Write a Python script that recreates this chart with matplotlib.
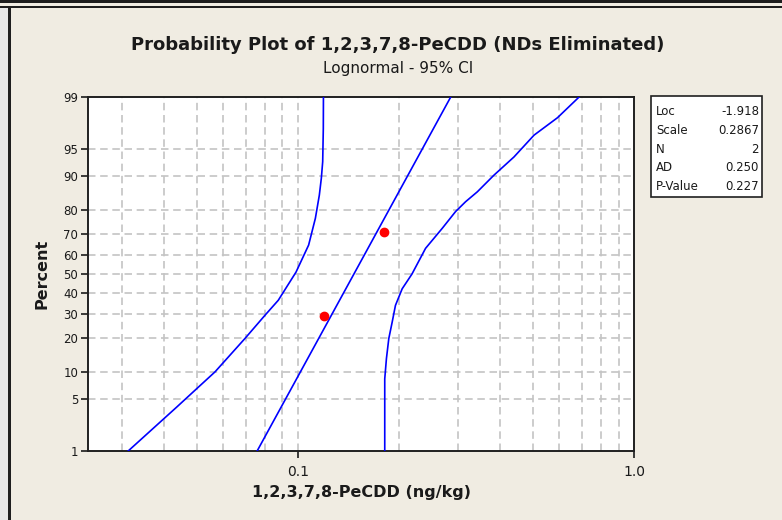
import numpy as np
import matplotlib
matplotlib.use('Agg')
import matplotlib.pyplot as plt
from matplotlib.patches import Rectangle
from matplotlib.ticker import NullLocator, FixedLocator, NullFormatter
from statistics import NormalDist

# values
data_x = [0.12, 0.18]
data_pct = [29.17, 70.83]

# fitted line ends (at 1% and 99%)
fit_pct = [1, 99]
fit_x = [0.0757, 0.285]

# 95% CI, lower limit
lower_pct = [1.0, 4.0, 6.3, 9.9, 19.8, 29.4, 36.5, 51.0, 64.8, 76.8, 85.0, 89.6, 93.0, 97.2, 99.0]
lower_x = [0.0313, 0.0436, 0.0494, 0.0567, 0.0696, 0.0799, 0.0875, 0.0988, 0.1077,
           0.1128, 0.1159, 0.1175, 0.1186, 0.1191, 0.1192]

# 95% CI, upper limit
upper_pct = [1.0, 8.4, 13.3, 19.8, 26.4, 34.0, 42.3, 50.0, 63.2, 72.6, 79.4, 82.9,
             86.0, 90.3, 93.8, 96.6, 98.0, 99.0]
upper_x = [0.1814, 0.1814, 0.1835, 0.1865, 0.1909, 0.1952, 0.2044, 0.2186, 0.2399,
           0.2690, 0.2946, 0.3156, 0.342, 0.3832, 0.4395, 0.5043, 0.5920, 0.6866]

pct_ticks = [1, 5, 10, 20, 30, 40, 50, 60, 70, 80, 90, 95, 99]
x_ticks = [0.1, 1.0]
x_tick_labels = ['0.1', '1.0']
x_minor = [0.03, 0.04, 0.05, 0.06, 0.07, 0.08, 0.09, 0.2, 0.3, 0.4, 0.5, 0.6, 0.7, 0.8, 0.9]

stat_names = ['Loc', 'Scale', 'N', 'AD', 'P-Value']
stat_values = ['-1.918', '0.2867', '2', '0.250', '0.227']

title = 'Probability Plot of 1,2,3,7,8-PeCDD (NDs Eliminated)'
subtitle = 'Lognormal - 95% CI'

# probability (normal quantile) scale for the percent axis
nd = NormalDist()
_ppf = np.vectorize(nd.inv_cdf, otypes=[float])
_cdf = np.vectorize(nd.cdf, otypes=[float])


def to_z(p):
    p = np.clip(np.asarray(p, dtype=float) / 100.0, 1e-9, 1 - 1e-9)
    return _ppf(p)


def from_z(z):
    return _cdf(np.asarray(z, dtype=float)) * 100.0


plt.rcParams['font.family'] = ['DejaVu Sans']
bg = '#F0ECE2'
txt = '#1A1A1A'

fig = plt.figure(figsize=(7.82, 5.20), dpi=100, facecolor=bg)
ax = fig.add_axes([88 / 782, 1 - 451 / 520, (634 - 88) / 782, (451 - 97) / 520])
ax.set_facecolor('white')

ax.set_xscale('log')
ax.set_yscale('function', functions=(to_z, from_z))
ax.set_xlim(0.02377, 1.0)
ax.set_ylim(1, 99)

grid_kw = dict(color='#C4C4C4', linewidth=1.2, dashes=(4.5, 2.8))
for v in x_minor + x_ticks[:1]:
    ax.axvline(v, zorder=1, **grid_kw)
for p in pct_ticks[1:-1]:
    ax.axhline(p, zorder=1, **grid_kw)

ax.plot(lower_x, lower_pct, color='#0000FF', lw=1.2, zorder=3)
ax.plot(upper_x, upper_pct, color='#0000FF', lw=1.2, zorder=3)
ax.plot(fit_x, fit_pct, color='#0000FF', lw=1.2, zorder=3)
ax.plot(data_x, data_pct, 'o', color='#FF0000', ms=6, mec='#FF0000', zorder=4)

ax.yaxis.set_major_locator(FixedLocator(pct_ticks))
ax.yaxis.set_minor_locator(NullLocator())
ax.set_yticklabels([str(p) for p in pct_ticks])
ax.xaxis.set_major_locator(FixedLocator(x_ticks))
ax.xaxis.set_minor_locator(NullLocator())
ax.xaxis.set_minor_formatter(NullFormatter())
ax.set_xticklabels(x_tick_labels)

ax.tick_params(axis='y', direction='out', length=5, width=1.2, pad=2,
               labelsize=8.5, colors=txt)
ax.tick_params(axis='x', direction='out', length=5, width=1.2, pad=5,
               labelsize=10, colors=txt)
for s in ax.spines.values():
    s.set_color('#202020')
    s.set_linewidth(1.4)

fig.text(398 / 782, 1 - 45 / 520, title, ha='center', va='center',
         fontsize=13, fontweight='bold', color=txt)
fig.text(398 / 782, 1 - 69 / 520, subtitle, ha='center', va='center',
         fontsize=11, color=txt)
fig.text(42 / 782, 1 - 274 / 520, 'Percent', ha='center', va='center',
         rotation=90, fontsize=11.5, fontweight='bold', color=txt)
fig.text(361 / 782, 1 - 493 / 520, '1,2,3,7,8-PeCDD (ng/kg)', ha='center',
         va='center', fontsize=11.5, fontweight='bold', color=txt)

# statistics box
bx0, bx1, by0, by1 = 651, 762, 96, 197
fig.add_artist(Rectangle((bx0 / 782, 1 - by1 / 520), (bx1 - bx0) / 782,
                         (by1 - by0) / 520, transform=fig.transFigure,
                         facecolor='white', edgecolor='#202020', lw=1.2))
row_y = [111.7, 130.7, 149.3, 167.7, 186.7]
for name, val, yy in zip(stat_names, stat_values, row_y):
    fig.text(656 / 782, 1 - yy / 520, name, ha='left', va='center',
             fontsize=8.5, color=txt)
    fig.text(759 / 782, 1 - yy / 520, val, ha='right', va='center',
             fontsize=8.5, color=txt)

# window frame lines
fig.add_artist(Rectangle((0, 1 - 3 / 520), 1, 3 / 520, transform=fig.transFigure,
                         facecolor='#1E1E1E', edgecolor='none'))
fig.add_artist(Rectangle((0, 1 - 8 / 520), 1, 2 / 520, transform=fig.transFigure,
                         facecolor='#1E1E1E', edgecolor='none'))
fig.add_artist(Rectangle((0, 0), 8 / 782, 1 - 8 / 520, transform=fig.transFigure,
                         facecolor='#E6E6E6', edgecolor='none'))
fig.add_artist(Rectangle((8 / 782, 0), 2.5 / 782, 1 - 6 / 520, transform=fig.transFigure,
                         facecolor='#1E1E1E', edgecolor='none'))

fig.savefig('out.png', dpi=100, facecolor=bg)
